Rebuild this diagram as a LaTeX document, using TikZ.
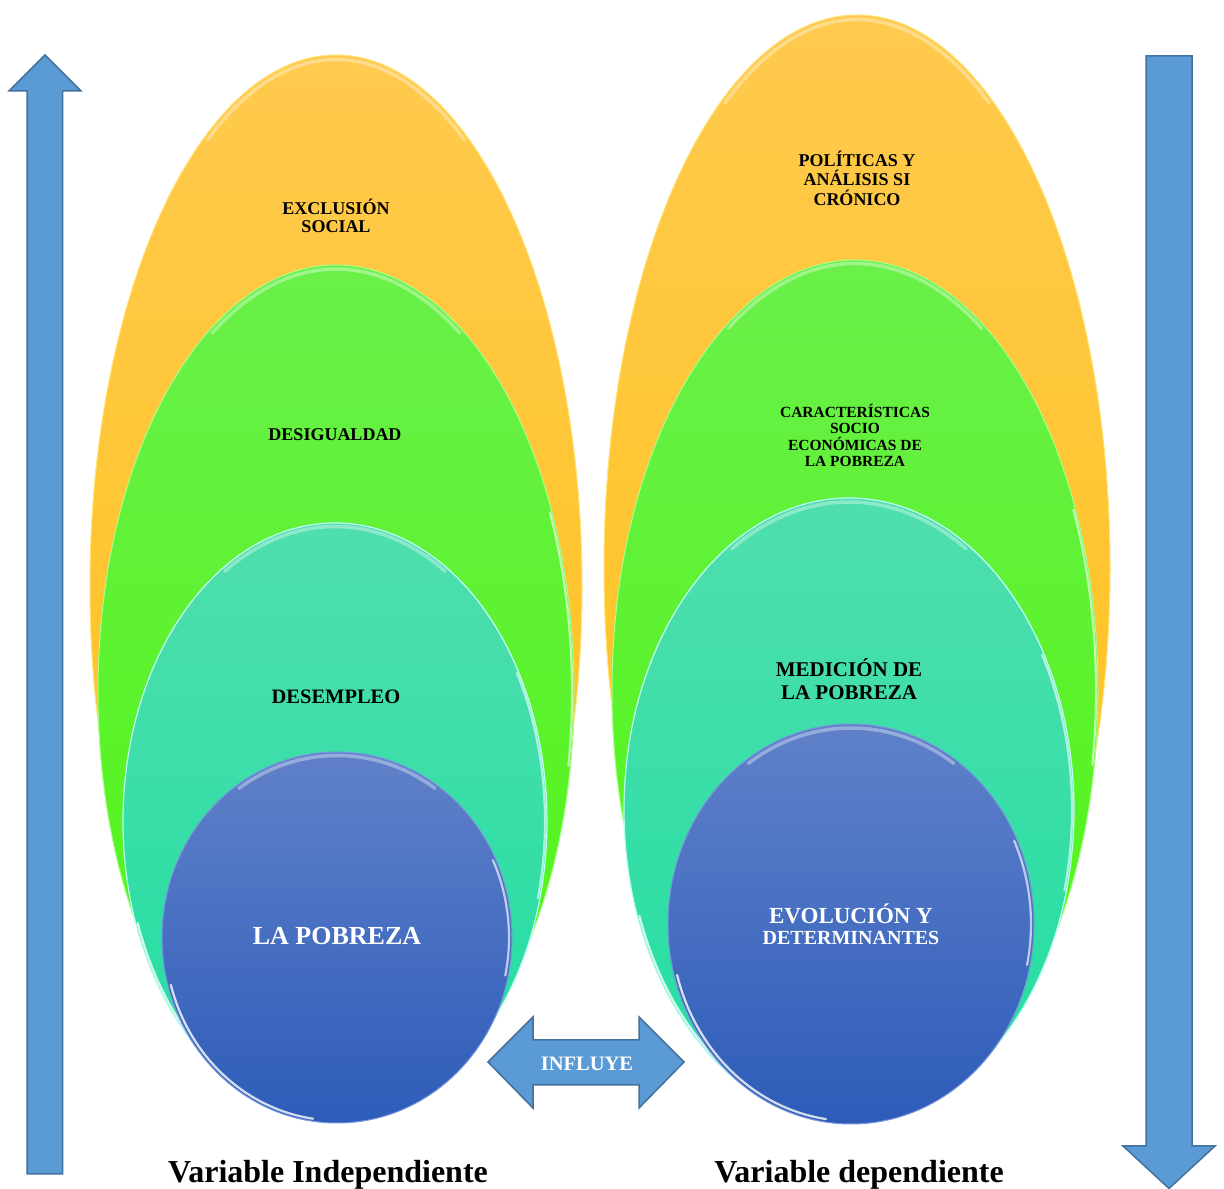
\documentclass[tikz,border=0pt]{standalone}
\usepackage{fontspec}
\setmainfont{Liberation Serif}
\usetikzlibrary{shapes.geometric}
\definecolor{orgTop}{RGB}{255,202,78}
\definecolor{orgBot}{RGB}{255,192,18}
\definecolor{orgEdge}{RGB}{255,226,120}
\definecolor{grnTop}{RGB}{106,240,74}
\definecolor{grnBot}{RGB}{78,245,16}
\definecolor{grnEdge}{RGB}{170,255,140}
\definecolor{tealTop}{RGB}{80,222,174}
\definecolor{tealBot}{RGB}{32,222,162}
\definecolor{tealEdge}{RGB}{190,255,245}
\definecolor{bluTop}{RGB}{96,129,201}
\definecolor{bluBot}{RGB}{45,92,185}
\definecolor{bluEdge}{RGB}{120,150,220}
\definecolor{arrowFill}{RGB}{91,155,213}
\definecolor{arrowLine}{RGB}{65,113,156}
\begin{document}
\begin{tikzpicture}[x=1pt,y=1pt,
  layer/.style={ellipse, inner sep=0pt, outer sep=0pt},
  orangelayer/.style={layer, top color=orgTop, bottom color=orgBot, draw=orgEdge, line width=1pt},
  greenlayer/.style={layer, top color=grnTop, bottom color=grnBot, draw=grnEdge, line width=1pt},
  teallayer/.style={layer, top color=tealTop, bottom color=tealBot, draw=tealEdge, line width=1.2pt},
  bluelayer/.style={layer, top color=bluTop, bottom color=bluBot, draw=bluEdge, line width=1pt},
  lbl/.style={align=center, inner sep=0pt, text=black},
  wlbl/.style={align=center, inner sep=0pt, text=white},
  arrowshape/.style={fill=arrowFill, draw=arrowLine, line width=1.5pt, line join=miter},
  gloss/.style={white, line width=3.5pt, opacity=0.35, line cap=round},
  shine/.style={white, line width=2.2pt, opacity=0.8, line cap=round},
]
\useasboundingbox (0,0) rectangle (1224,1189);
\fill[white] (0,0) rectangle (1224,1189);

% ---------------- left stack ----------------
\node[orangelayer, minimum width=492pt, minimum height=1063pt] (orangeL) at (336,602.5) {};
\draw[gloss] (orangeL.center) ++(58:242 and 527) arc[start angle=58, end angle=122, x radius=242, y radius=527];
\node[greenlayer, minimum width=476pt, minimum height=854pt] (greenL) at (336,497) {};
\draw[gloss] (greenL.center) ++(58:234 and 423) arc[start angle=58, end angle=122, x radius=234, y radius=423];
\draw[shine, opacity=0.6] (greenL.center) ++(-10:236 and 425) arc[start angle=-10, end angle=25, x radius=236, y radius=425];
\node[teallayer, minimum width=424pt, minimum height=597pt] (tealL) at (335,367.5) {};
\draw[gloss] (tealL.center) ++(58:208 and 295) arc[start angle=58, end angle=122, x radius=208, y radius=295];
\draw[shine] (tealL.center) ++(200:210 and 297) arc[start angle=200, end angle=245, x radius=210, y radius=297];
\draw[shine, opacity=0.6] (tealL.center) ++(-15:210 and 297) arc[start angle=-15, end angle=30, x radius=210, y radius=297];
\node[bluelayer, minimum width=350pt, minimum height=371pt] (blueL) at (337,251.5) {};
\draw[gloss] (blueL.center) ++(55:171 and 182) arc[start angle=55, end angle=125, x radius=171, y radius=182];
\draw[shine] (blueL.center) ++(195:172 and 183) arc[start angle=195, end angle=262, x radius=172, y radius=183];
\draw[shine, opacity=0.65] (blueL.center) ++(-12:172 and 183) arc[start angle=-12, end angle=25, x radius=172, y radius=183];

% ---------------- right stack ----------------
\node[orangelayer, minimum width=506pt, minimum height=1105pt] (orangeR) at (857,621.5) {};
\draw[gloss] (orangeR.center) ++(58:249 and 548) arc[start angle=58, end angle=122, x radius=249, y radius=548];
\node[greenlayer, minimum width=486pt, minimum height=861pt] (greenR) at (855,498.5) {};
\draw[gloss] (greenR.center) ++(58:239 and 427) arc[start angle=58, end angle=122, x radius=239, y radius=427];
\draw[shine, opacity=0.6] (greenR.center) ++(-10:241 and 428) arc[start angle=-10, end angle=25, x radius=241, y radius=428];
\node[teallayer, minimum width=450pt, minimum height=624pt] (tealR) at (849,379) {};
\draw[gloss] (tealR.center) ++(58:221 and 308) arc[start angle=58, end angle=122, x radius=221, y radius=308];
\draw[shine] (tealR.center) ++(200:223 and 310) arc[start angle=200, end angle=245, x radius=223, y radius=310];
\draw[shine, opacity=0.6] (tealR.center) ++(-15:223 and 310) arc[start angle=-15, end angle=30, x radius=223, y radius=310];
\node[bluelayer, minimum width=366pt, minimum height=400pt] (blueR) at (851,265) {};
\draw[gloss] (blueR.center) ++(55:179 and 196) arc[start angle=55, end angle=125, x radius=179, y radius=196];
\draw[shine] (blueR.center) ++(195:180 and 197) arc[start angle=195, end angle=262, x radius=180, y radius=197];
\draw[shine, opacity=0.65] (blueR.center) ++(-12:180 and 197) arc[start angle=-12, end angle=25, x radius=180, y radius=197];

% ---------------- labels in layers ----------------
\node[lbl, font=\bfseries\fontsize{18}{18.5}\selectfont] (tExcl) at (336,973) {EXCLUSIÓN\\SOCIAL};
\node[lbl, font=\bfseries\fontsize{18}{19}\selectfont] (tDesig) at (335,754) {DESIGUALDAD};
\node[lbl, font=\bfseries\fontsize{20.5}{22}\selectfont] (tDesem) at (336,492) {DESEMPLEO};
\node[wlbl, font=\bfseries\fontsize{26}{28}\selectfont] (tPobL) at (337,253) {LA POBREZA};

\node[lbl, font=\bfseries\fontsize{18}{19.5}\selectfont] (tPol) at (857,1011) {POLÍTICAS Y\\ANÁLISIS SI\\CRÓNICO};
\node[lbl, font=\bfseries\fontsize{15.5}{16.4}\selectfont] (tCar) at (855,753.5) {CARACTERÍSTICAS\\SOCIO\\ECONÓMICAS DE\\LA POBREZA};
\node[lbl, font=\bfseries\fontsize{21}{22.5}\selectfont] (tMed) at (849,510) {MEDICIÓN DE\\LA POBREZA};
\node[wlbl, font=\bfseries\fontsize{20}{21.5}\selectfont] (tEvo) at (851,265) {{\fontsize{23}{21.5}\selectfont EVOLUCIÓN Y}\\DETERMINANTES};

% ---------------- side arrows ----------------
\draw[arrowshape] (27,15) -- (27,1098) -- (9,1098) -- (45,1134) -- (81,1098) -- (62.5,1098) -- (62.5,15) -- cycle;
\draw[arrowshape] (1146,1133) -- (1146,43) -- (1123,43) -- (1169,0.5) -- (1215,43) -- (1192,43) -- (1192,1133) -- cycle;

% ---------------- influye arrow ----------------
\draw[arrowshape] (488,127) -- (533,172) -- (533,149) -- (639,149) -- (639,172) -- (684,127)
  -- (639,81) -- (639,104) -- (533,104) -- (533,81) -- cycle;
\node[wlbl, font=\bfseries\fontsize{20.5}{22}\selectfont] (tInf) at (587,125) {INFLUYE};

% ---------------- captions ----------------
\node[lbl, anchor=base, font=\bfseries\fontsize{32}{34}\selectfont] (capInd) at (328,6) {Variable Independiente};
\node[lbl, anchor=base, font=\bfseries\fontsize{32}{34}\selectfont] (capDep) at (859,6) {Variable dependiente};
\end{tikzpicture}
\end{document}
